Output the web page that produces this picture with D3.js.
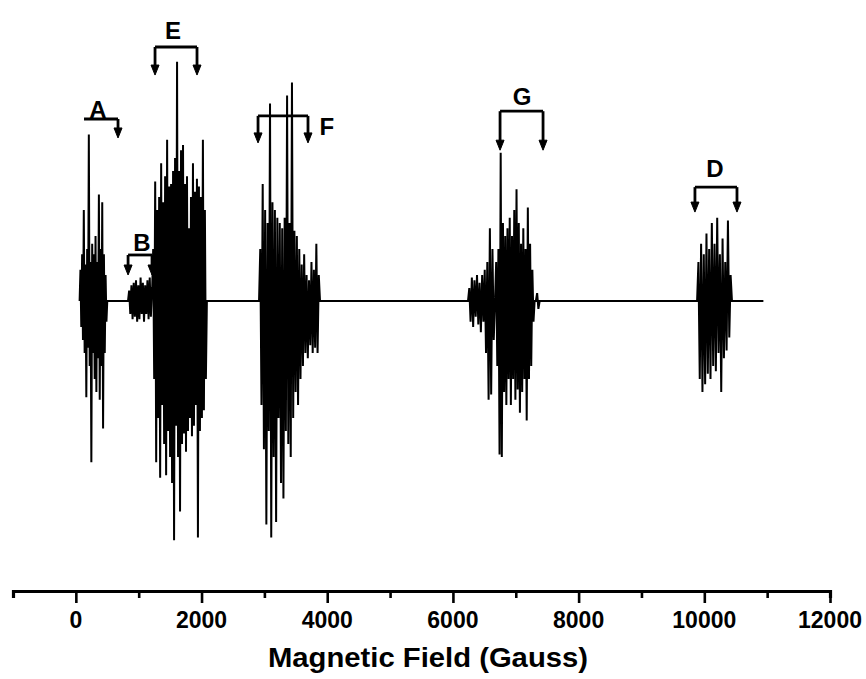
<!DOCTYPE html>
<html>
<head>
<meta charset="utf-8">
<script src="https://cdn.jsdelivr.net/npm/d3@7"></script>
<style>
  body { margin: 0; background: #fff; }
  text { font-family: "Liberation Sans", Arial, sans-serif; font-weight: bold; fill: #000; }
</style>
</head>
<body>
<div id="chart"></div>
<script>
// spectrum blocks: field range (G) and signal extremes
var blockRanges = [[60, 500], [830, 1212], [1215, 2085], [2915, 3885], [6240, 6670], [6670, 7300], [7320, 7380], [9885, 10440]];
var sigA = [0, 12, -10, 18, -15, 35, -20, 14, -37, 20, -18, 64, -25, 15, -62, 22, -20, 18, -30, 25, -35, 15, -22, 41, -38, 20, -25, 38, -49, 18, -20, 10, -8, 0];
var sigB = [0, 4, -5, 6, -7, 7, -6, 8, -8, 6, -7, 9, -5, 7, -8, 6, -5, 8, -7, 9, -6, 5];
var sigE = [5, 20, -30, 46, -62, 35, -45, 40, -68, 53, -40, 38, -55, 48, -67, 62, -50, 44, -60, 45, -70, 50, -92, 55, -48, 92, -60, 50, -81, 58, -55, 60, -51, 45, -58, 48, -50, 28, -45, 40, -52, 53, -48, 42, -40, 47, -91, 44, -50, 40, -45, 62, -42, 35, -30, 0];
var sigF = [0, 20, -40, 45, -57, 35, -86, 30, -50, 76, -91, 38, -60, 35, -85, 32, -45, 30, -70, 28, -76, 32, -50, 79, -55, 30, -60, 84, -45, 27, -35, 25, -40, 20, -30, 14, -25, 18, -20, 10, -22, 8, -17, 15, -20, 12, -18, 22, -20, 10, 0];
var sigG1 = [0, 5, -8, 9, -10, 8, -6, 10, -9, 7, -12, 10, -8, 12, -20, 15, -38, 28, -36, 20, -15, 0];
var sigG2 = [0, 15, -25, 20, -59, 57, -60, 30, -35, 25, -40, 28, -30, 32, -40, 25, -30, 35, -38, 43, -34, 30, -43, 22, -35, 28, -30, 20, -46, 36, -30, 22, -25, 12, -8, 0];
var sigBlip = [0, 3, -3, 0];
var sigD = [0, 15, -30, 22, -35, 18, -32, 26, -28, 20, -30, 30, -25, 22, -27, 32, -20, 18, -35, 24, -22, 15, -19, 31, -14, 10, 0];
var blockSignals = [sigA, sigB, sigE, sigF, sigG1, sigG2, sigBlip, sigD];
var traceEnd = 10940;

// bracket annotations
var annoLabels = ['A', 'B', 'E', 'F', 'G', 'D'];
var annoFrom = [130, 831, 1260, 2899, 6750, 9851];
var annoTo = [671, 1212, 1928, 3694, 7434, 10520];
var annoBar = [70, 17.7, 97.7, 71.2, 73, 43.8];
var annoTip = [62.7, 10, 86.9, 60.8, 58, 34.2];
var annoLeftArrow = [false, true, true, true, true, true];
var labelField = [353, 1053, 1546, 3995, 7100, 10170];
var labelSignal = [70.5, 19.2, 100.8, 63.8, 75.4, 47.7];

var tickValues = d3.range(-1000, 12001, 1000);
var tickLabels = ['0', '2000', '4000', '6000', '8000', '10000', '12000'];

var width = 866, height = 679;
var svg = d3.select('#chart').append('svg')
  .attr('width', width)
  .attr('height', height);

var x = d3.scaleLinear().domain([-1000, 12000]).range([13, 830]);
var y = d3.scaleLinear().domain([-100, 100]).range([561, 41]);

// build the trace
var pts = [];
blockRanges.forEach(function(r, k) {
  var vals = blockSignals[k];
  var n = vals.length;
  vals.forEach(function(v, i) {
    pts.push([r[0] + (r[1] - r[0]) * i / (n - 1), v]);
  });
});
pts.push([traceEnd, 0]);

svg.append('path')
  .datum(pts)
  .attr('fill', 'none')
  .attr('stroke', '#000')
  .attr('stroke-width', 2)
  .attr('stroke-linejoin', 'miter')
  .attr('d', d3.line()
    .x(function(d) { return x(d[0]); })
    .y(function(d) { return y(d[1]); }));

// x axis
var axisY = 591;
var xAxis = d3.axisBottom(x)
  .tickValues(tickValues)
  .tickSizeOuter(0)
  .tickSize(7)
  .tickFormat('');
var gx = svg.append('g')
  .attr('transform', 'translate(0,' + axisY + ')')
  .call(xAxis);
gx.select('.domain').attr('stroke-width', 3.2);
gx.selectAll('.tick line')
  .attr('stroke-width', 2.6)
  .attr('y2', function(d) { return (d % 2000 === 0) ? 12 : 7; });

svg.selectAll('.xlab')
  .data(tickLabels)
  .enter()
  .append('text')
    .attr('class', 'xlab')
    .attr('x', function(d) { return x(+d); })
    .attr('y', 628)
    .attr('text-anchor', 'middle')
    .style('font-size', '23px')
    .text(function(d) { return d; });

svg.append('text')
  .attr('x', 428)
  .attr('y', 667)
  .attr('text-anchor', 'middle')
  .attr('textLength', 320)
  .attr('lengthAdjust', 'spacingAndGlyphs')
  .style('font-size', '27px')
  .text('Magnetic Field (Gauss)');

// brackets
var ann = svg.append('g').attr('stroke', '#000').attr('stroke-width', 2.8).attr('fill', '#000');
annoLabels.forEach(function(lab, i) {
  var x1 = x(annoFrom[i]), x2 = x(annoTo[i]);
  var yb = y(annoBar[i]), yt = y(annoTip[i]);
  ann.append('line').attr('x1', x1).attr('x2', x2).attr('y1', yb).attr('y2', yb);
  var ends = annoLeftArrow[i] ? [x1, x2] : [x2];
  ends.forEach(function(ex) {
    ann.append('line').attr('x1', ex).attr('x2', ex).attr('y1', yb).attr('y2', yt - 8);
    ann.append('path')
      .attr('stroke-width', 1)
      .attr('d', 'M' + (ex - 4) + ',' + (yt - 10) + 'L' + (ex + 4) + ',' + (yt - 10) + 'L' + ex + ',' + yt + 'Z');
  });
  svg.append('text')
    .attr('x', x(labelField[i]))
    .attr('y', y(labelSignal[i]))
    .attr('text-anchor', 'middle')
    .style('font-size', '24px')
    .text(lab);
});
</script>
</body>
</html>
